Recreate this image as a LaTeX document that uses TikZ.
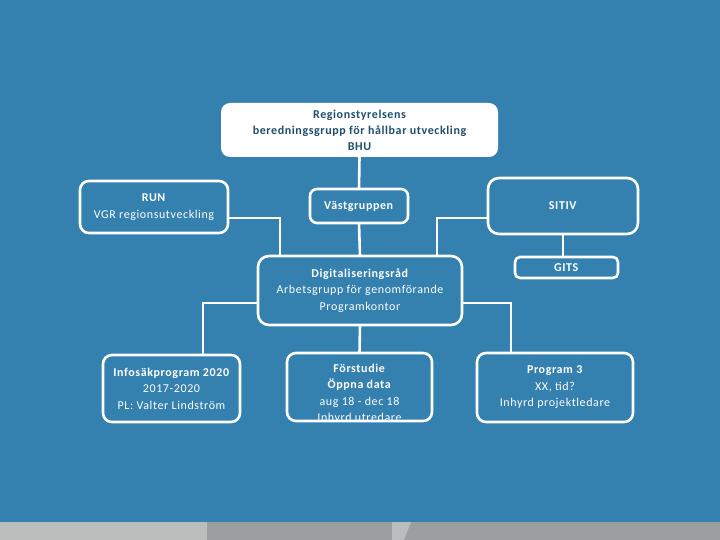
\documentclass[tikz,border=0pt]{standalone}
\usepackage{fontspec}
\setmainfont[LetterSpace=5]{Carlito}
\definecolor{bgblue}{RGB}{52,128,174}
\definecolor{txtdark}{RGB}{30,78,110}
\definecolor{graylight}{RGB}{187,188,188}
\definecolor{graydark}{RGB}{156,159,160}
\begin{document}
\begin{tikzpicture}[x=1pt,y=-1pt,
  box/.style={draw=white, line width=2.6pt, rounded corners=9pt, inner sep=0pt, outer sep=0pt,
    text=white, align=center, font=\fontsize{12}{16.5}\selectfont},
  topbox/.style={fill=white, rounded corners=9pt, inner sep=0pt, outer sep=0pt,
    text=txtdark, align=center, font=\bfseries\fontsize{12}{16}\selectfont},
  txt/.style={text=white, align=center, inner sep=0pt, font=\fontsize{12}{16.5}\selectfont},
  link/.style={draw=white, line width=2.6pt}]
\useasboundingbox (0,0) rectangle (720,540);
\fill[bgblue] (0,0) rectangle (720,540);
% bottom strip
\fill[graylight] (0,522) rectangle (207,540);
\fill[graydark] (207,522) rectangle (720,540);
\fill[graylight] (392,522) -- (411,522) -- (404,540) -- (392,540) -- cycle;

% nodes
\node[topbox, minimum width=277pt, minimum height=54pt] (bhu) at (359.5,130)
  {Regionstyrelsens\\beredningsgrupp för hållbar utveckling\\BHU};
\node[box, minimum width=148pt, minimum height=52pt] (run) at (154,207)
  {\textbf{RUN}\\VGR regionsutveckling};
\node[box, minimum width=98pt, minimum height=34pt, rounded corners=7pt] (vast) at (359,206)
  {\textbf{Västgruppen}};
\node[box, minimum width=150pt, minimum height=56pt, rounded corners=11pt] (sitiv) at (563,206)
  {\textbf{SITIV}};
\node[box, minimum width=103pt, minimum height=21pt, rounded corners=5pt] (gits) at (566.5,267.5)
  {\textbf{GITS}};
\node[box, minimum width=204pt, minimum height=69pt, rounded corners=11pt] (digi) at (360,290.5)
  {\textbf{Digitaliseringsråd}\\Arbetsgrupp för genomförande\\Programkontor};
\node[box, minimum width=137pt, minimum height=67pt] (info) at (171.5,388.5)
  {\textbf{Infosäkprogram 2020}\\2017-2020\\PL: Valter Lindström};
\node[box, minimum width=145pt, minimum height=68pt] (forst) at (359.5,387) {};
\begin{scope}
  \clip (280,350) rectangle (440,420);
  \node[txt] (forsttxt) at (359.5,394)
    {\textbf{Förstudie}\\\textbf{Öppna data}\\aug 18 - dec 18\\Inhyrd utredare};
\end{scope}
\node[box, minimum width=156pt, minimum height=69pt] (prog) at (555,387.5)
  {\textbf{Program 3}\\XX, tid?\\Inhyrd projektledare};

% connectors
\coordinate (j1) at (280,218);
\coordinate (j2) at (437,218);
\coordinate (j3) at (203,303);
\coordinate (j4) at (511,303);
\draw[link] (bhu.south) -- (vast.north);
\draw[link] (vast.south) -- (digi.north);
\draw[link] (run.east |- j1) -- (j1) -- (j1 |- digi.north);
\draw[link] (sitiv.west |- j2) -- (j2) -- (j2 |- digi.north);
\draw[link] (sitiv.south) -- (sitiv.south |- gits.north);
\draw[link] (digi.west |- j3) -- (j3) -- (j3 |- info.north);
\draw[link] (digi.east |- j4) -- (j4) -- (j4 |- prog.north);
\draw[link] (digi.south) -- (forst.north);
\end{tikzpicture}
\end{document}
